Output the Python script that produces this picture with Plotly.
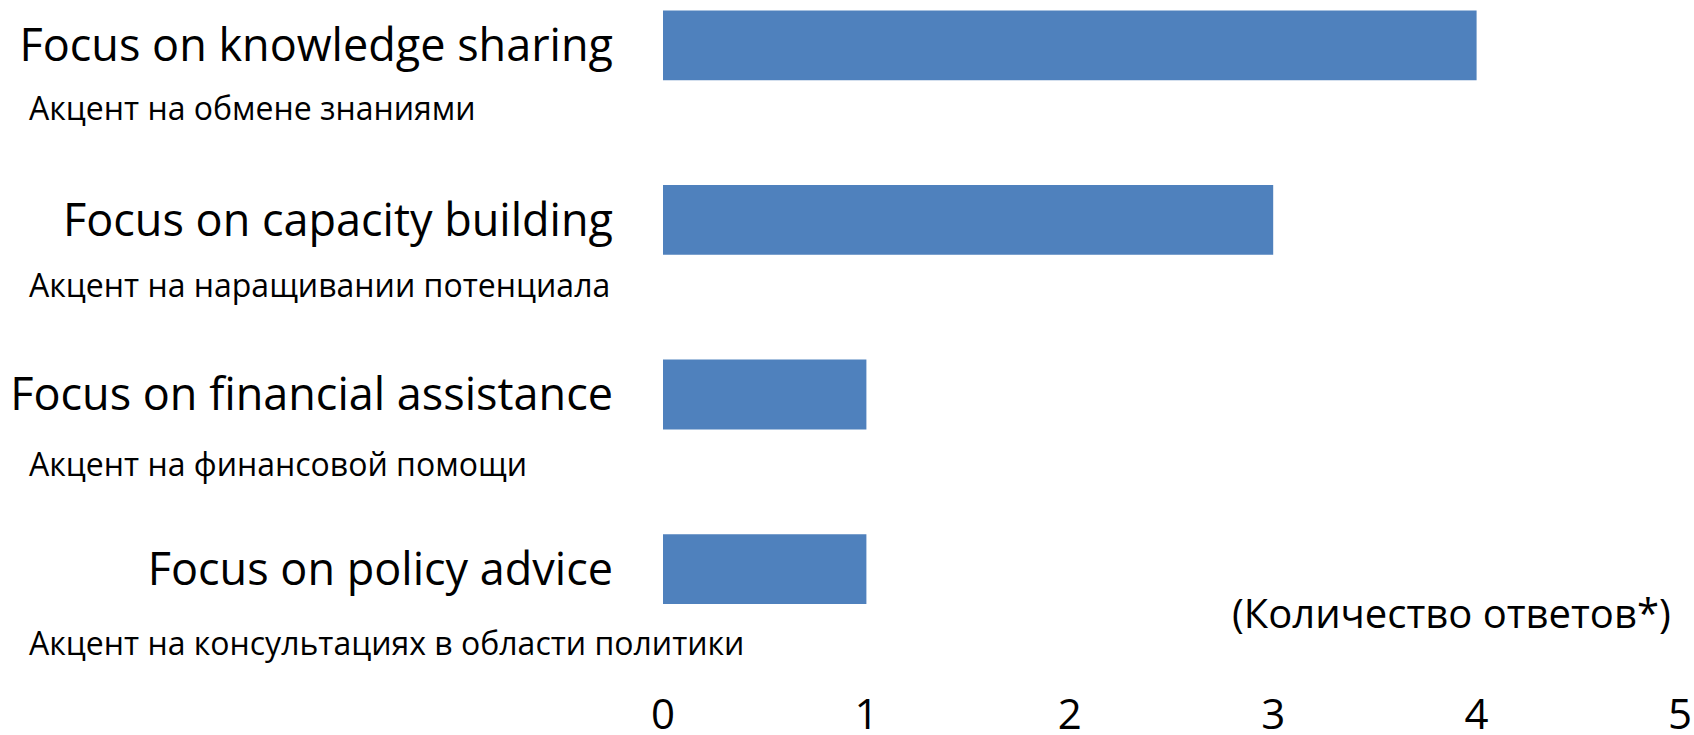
import plotly.graph_objects as go

categories = ["Focus on knowledge sharing", "Focus on capacity building",
              "Focus on financial assistance", "Focus on policy advice"]
subtitles = ["Акцент на обмене знаниями", "Акцент на наращивании потенциала",
             "Акцент на финансовой помощи", "Акцент на консультациях в области политики"]
values = [4, 3, 1, 1]
x_ticks = [0, 1, 2, 3, 4, 5]
axis_note = "(Количество ответов*)"

W, H = 1694, 735
L = 663.3
PR = 1679.6
R = W - PR
T = 0
B = 55
PH = H - T - B
PW = PR - L
BAND = 174.6
FIRST = 45.3
top_val = -FIRST / BAND
bot_val = top_val + PH / BAND

FONT = "Open Sans"

fig = go.Figure(go.Bar(
    x=values, y=categories, orientation="h",
    marker=dict(color="#4F81BD", line=dict(width=0)),
    width=0.40,
))

sub_px = [107, 284, 463, 642]
for s, py in zip(subtitles, sub_px):
    fig.add_annotation(text=s, xref="paper", yref="paper",
                       x=(28 - L) / PW, y=1 - py / PH,
                       xanchor="left", yanchor="middle", showarrow=False,
                       font=dict(family=FONT, size=32, color="black"))

fig.add_annotation(text=axis_note, xref="paper", yref="paper",
                   x=(1673 - L) / PW, y=1 - 612 / PH,
                   xanchor="right", yanchor="middle", showarrow=False,
                   font=dict(family=FONT, size=40, color="black"))

fig.update_layout(
    width=W, height=H,
    margin=dict(l=L, r=R, t=T, b=B, autoexpand=False),
    paper_bgcolor="white", plot_bgcolor="white",
    showlegend=False,
    xaxis=dict(range=[0, 5], tickvals=x_ticks, showgrid=False, zeroline=False,
               showline=False, ticks="", automargin=False,
               tickfont=dict(family=FONT, size=42, color="black"),
               ticklabelstandoff=6),
    yaxis=dict(type="category", range=[bot_val, top_val], showgrid=False,
               zeroline=False, showline=False, ticks="", automargin=False,
               tickfont=dict(family=FONT, size=45, color="black"),
               ticklabelstandoff=49),
)

fig.write_html(
    "out.html",
    config={"displayModeBar": False},
    post_script="document.body.style.margin='0px';"
                "document.documentElement.style.overflow='hidden';"
                "document.body.style.overflow='hidden';",
)
